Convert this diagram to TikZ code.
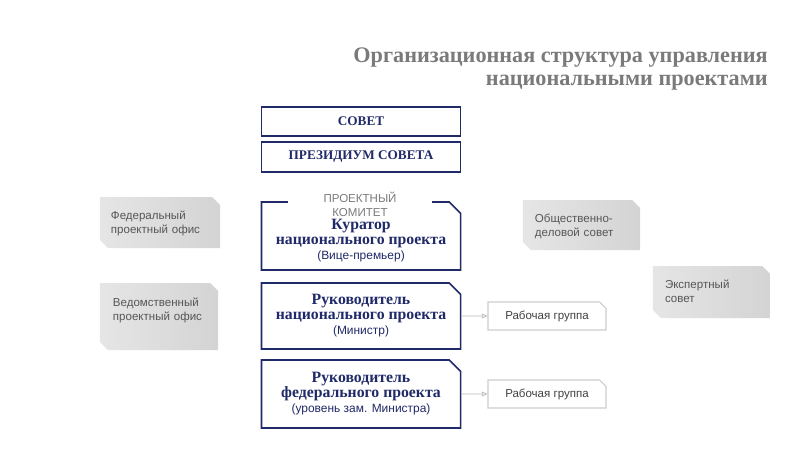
\documentclass[tikz,border=0pt]{standalone}
\usepackage{fontspec}
\setmainfont{Liberation Serif}
\setsansfont{Liberation Sans}
\usetikzlibrary{arrows.meta,shapes.misc,calc}

\definecolor{navy}{RGB}{32,42,104}
\definecolor{titlegray}{RGB}{122,122,122}
\definecolor{officegray}{RGB}{86,86,86}
\definecolor{wgline}{RGB}{205,205,205}

\newcommand{\subtxt}{\sffamily\mdseries\fontsize{8.5}{10.7}\selectfont}

\tikzset{
  unitbox/.style={draw=navy,line width=1.1pt,fill=white,text=navy,
    font=\bfseries\fontsize{11.2}{10.7}\selectfont,align=center,
    minimum width=4.975cm,inner sep=0pt},
  capsbox/.style={unitbox,font=\bfseries\fontsize{9.4}{10.7}\selectfont},
  cutbox/.style={unitbox,chamfered rectangle,
    chamfered rectangle corners=north east,chamfered rectangle sep=0.14cm},
  officebox/.style={chamfered rectangle,
    chamfered rectangle corners={north east,south west},
    chamfered rectangle sep=0.1cm,left color=gray!20,right color=gray!34,
    draw=none,inner ysep=0pt,align=left,text height=0.45cm,
    text=officegray,font=\sffamily\fontsize{8.2}{10}\selectfont},
  wgbox/.style={chamfered rectangle,chamfered rectangle corners=north east,
    chamfered rectangle sep=0.08cm,draw=wgline,line width=0.8pt,
    minimum width=2.95cm,minimum height=0.7cm,inner sep=0pt,
    text=black!75,font=\sffamily\fontsize{8.2}{10}\selectfont},
  flow/.style={draw=gray!55,line width=0.6pt,-{Triangle[open,length=4pt,width=3.5pt]}}
}

\begin{document}
\begin{tikzpicture}[x=0.025cm,y=-0.025cm]
\useasboundingbox (0,0) rectangle (800,450);

% Title
\node[anchor=east,align=right,inner sep=0pt,text=titlegray,
  font=\bfseries\fontsize{15.8}{16.4}\selectfont] (title) at (768,69)
  {Организационная структура управления\\национальными проектами};

% Council
\node[capsbox,minimum height=0.725cm] (sovet) at (361,121.5) {СОВЕТ};
\node[capsbox,minimum height=0.75cm] (prez) at (361,157) {ПРЕЗИДИУМ СОВЕТА};

% Project committee
\node[cutbox,minimum height=1.7cm] (kur) at (361,236)
  {\rule{0pt}{14.2pt}Куратор\\национального проекта\\{\subtxt(Вице-премьер)}};
\fill[white] ($(kur.north)+(-73,-3)$) rectangle ($(kur.north)+(71,3)$);
\node[align=center,inner sep=0pt,text=titlegray,
  font=\sffamily\fontsize{8.2}{10}\selectfont] (kom) at (360,204)
  {ПРОЕКТНЫЙ\\КОМИТЕТ};

% Project heads
\node[cutbox,minimum height=1.65cm] (ruk1) at (361,316)
  {Руководитель\\национального проекта\\{\subtxt(Министр)}};
\node[cutbox,minimum height=1.7cm] (ruk2) at (361,394)
  {Руководитель\\федерального проекта\\{\subtxt(уровень зам. Министра)}};

% Working groups
\node[wgbox] (wg1) at (547,316) {Рабочая группа};
\node[wgbox] (wg2) at (547,394) {Рабочая группа};
\draw[flow] (ruk1) -- (wg1);
\draw[flow] (ruk2) -- (wg2);

% Offices and councils
\node[officebox,inner xsep=0.175cm,text width=2.45cm,text depth=0.625cm]
  (fed) at (160,222.5) {Федеральный\\проектный офис};
\node[officebox,inner xsep=0.225cm,text width=2.3cm,text depth=1.0cm,
  text height=0.475cm] (ved) at (159,316.5) {Ведомственный\\проектный офис};
\node[officebox,inner xsep=0.2cm,text width=2.325cm,text depth=0.6cm]
  (obsh) at (581.5,225) {Общественно-\\деловой совет};
\node[officebox,inner xsep=0.2cm,text width=2.325cm,text depth=0.65cm]
  (exp) at (711.5,292) {Экспертный\\совет};

\end{tikzpicture}
\end{document}
